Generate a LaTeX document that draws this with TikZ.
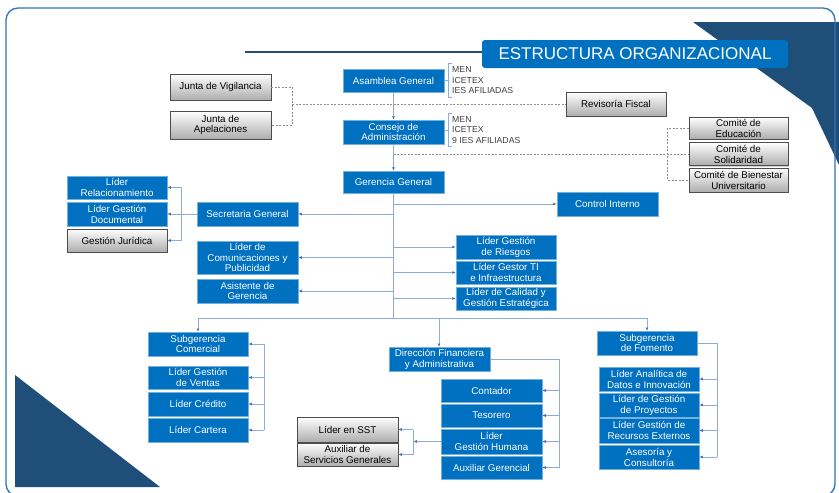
\documentclass[tikz,border=0pt]{standalone}
\usepackage{fontspec}
\setmainfont{Liberation Sans}
\usetikzlibrary{arrows.meta,shadows}
\definecolor{bluebox}{HTML}{0070C0}
\definecolor{navy}{HTML}{1F4E79}
\definecolor{linkc}{HTML}{8FAADC}
\definecolor{tipc}{HTML}{4F6FBF}
\definecolor{framec}{HTML}{2E75B6}

\begin{document}
\begin{tikzpicture}[x=1pt,y=-1pt,
  caja/.style={align=center, inner sep=1pt, minimum width=101pt, minimum height=23.5pt,
    font=\fontsize{9.8}{10.9}\selectfont},
  cargo/.style={caja, fill=bluebox, draw=bluebox!55!white, line width=0.5pt, text=white},
  externo/.style={caja, draw=black!70, line width=0.6pt, text=black, top color=white,
    bottom color=black!32, drop shadow={shadow xshift=1pt, shadow yshift=-1.2pt, opacity=0.35}},
  link/.style={draw=linkc, line width=0.8pt, -{Latex[length=3.5pt,width=3pt,color=tipc]}},
  line/.style={draw=linkc, line width=0.8pt},
  dashln/.style={draw=black!45, line width=0.6pt, dash pattern=on 2pt off 1.5pt},
  brk/.style={draw=linkc, line width=0.7pt},
  miembros/.style={font=\fontsize{8.7}{10.5}\selectfont, text=black!75, align=left,
    anchor=west, inner sep=0pt}]
  \useasboundingbox (0,0) rectangle (839,493);
  \clip (0,0) rectangle (839,493);
  % Background
  \fill[navy] (693,22) -- (839,22) -- (839,165) -- (812,108) -- cycle;
  \fill[navy] (15,375) -- (15,487) -- (160,487) -- cycle;
  \draw[framec, line width=1.3pt, rounded corners=12pt] (6,8) rectangle (835,496);
  % Title
  \node[fill=bluebox, rounded corners=3pt, text=white, font=\fontsize{17}{17}\selectfont,
        minimum width=306pt, minimum height=28pt, inner sep=0pt] (titulo) at (635,54)
        {ESTRUCTURA ORGANIZACIONAL};
  \coordinate (lineaIni) at (245,52);
  \draw[navy, line width=1.6pt] (lineaIni) -- (lineaIni -| titulo.west);

  % Top of the structure
  \node[cargo] (asamblea) at (393.5,80.5) {Asamblea General};
  \node[cargo, minimum height=24pt] (consejo) at (393.5,132) {Consejo de\\Administración};
  \node[cargo, minimum height=22pt] (gerencia) at (393.5,182) {Gerencia General};
  \node[miembros] (menA) at (452,80.5) {MEN\\ICETEX\\IES AFILIADAS};
  \node[miembros] (menC) at (452,130) {MEN\\ICETEX\\9 IES AFILIADAS};
  \foreach \m in {menA, menC} {
    \draw[brk] ([xshift=0pt,yshift=3pt]\m.north west) -- ([xshift=-4pt,yshift=3pt]\m.north west)
      -- ([xshift=-4pt,yshift=-3pt]\m.south west) -- ([xshift=0pt,yshift=-3pt]\m.south west);
    \draw[brk] ([xshift=-4pt]\m.west) -- ++(-3,0);
  }

  % Control bodies (gray)
  \node[externo, minimum height=26pt] (vigilancia) at (220.5,87) {Junta de Vigilancia};
  \node[externo, minimum height=28pt] (apelaciones) at (220.5,125) {Junta de\\Apelaciones};
  \node[externo, minimum width=100pt, minimum height=24pt] (revisoria) at (616,104) {Revisoría Fiscal};
  \node[externo, minimum width=99pt, minimum height=22pt] (educacion) at (738.5,128) {Comité de\\Educación};
  \node[externo, minimum width=99pt, minimum height=23pt] (solidaridad) at (738.5,154) {Comité de\\Solidaridad};
  \node[externo, minimum width=99pt, minimum height=24pt] (bienestar) at (738.5,180) {Comité de Bienestar\\Universitario};
  \draw[dashln] (vigilancia.east) -- ++(21,0) |- (apelaciones.east);
  \draw[dashln] ([xshift=21pt]vigilancia.east |- revisoria.west) -- (revisoria.west);
  \draw[dashln] (consejo.south |- solidaridad.west) -- (solidaridad.west);
  \draw[dashln] (educacion.west) -- ++(-21,0) |- (bienestar.west);

  % Staff of the general management
  \node[cargo] (secretaria) at (247.5,214) {Secretaria General};
  \node[cargo, minimum width=100pt, minimum height=23pt] (relacion) at (117,187.5) {Líder\\Relacionamiento};
  \node[cargo, minimum width=100pt] (documental) at (117,214) {Líder Gestión\\Documental};
  \node[externo, minimum width=100pt, minimum height=23pt] (juridica) at (117,240.5) {Gestión Jurídica};
  \node[cargo, minimum height=33pt] (comunica) at (247.5,257.5) {Líder de\\Comunicaciones y\\Publicidad};
  \node[cargo] (asistente) at (247.5,291) {Asistente de\\Gerencia};
  \node[cargo] (control) at (607.5,204) {Control Interno};
  \node[cargo, minimum width=100pt] (riesgos) at (506,247) {Líder Gestión\\de Riesgos};
  \node[cargo, minimum width=100pt, minimum height=23pt] (gestorti) at (506,272.5) {Líder Gestor TI\\e Infraestructura};
  \node[cargo, minimum width=100pt, minimum height=23pt] (calidad) at (506,298.5) {Líder de Calidad y\\Gestión Estratégica};

  % Subgerencia Comercial
  \node[cargo, minimum width=100pt] (scomercial) at (198,344) {Subgerencia\\Comercial};
  \node[cargo, minimum width=100pt, minimum height=23pt] (ventas) at (198,377.5) {Líder Gestión\\de Ventas};
  \node[cargo, minimum width=100pt] (credito) at (198,404) {Líder Crédito};
  \node[cargo, minimum width=100pt] (cartera) at (198,430) {Líder Cartera};

  % Direccion Financiera
  \node[cargo] (direccion) at (439.5,359) {Dirección Financiera\\y Administrativa};
  \node[cargo, minimum height=23pt] (contador) at (491.5,390.5) {Contador};
  \node[cargo, minimum height=23pt] (tesorero) at (491.5,415.5) {Tesorero};
  \node[cargo, minimum height=25pt] (humana) at (491.5,441.5) {Líder\\Gestión Humana};
  \node[cargo, minimum height=23pt] (auxger) at (491.5,467.5) {Auxiliar Gerencial};
  \node[externo, minimum height=25pt] (sst) at (347.5,429.5) {Líder en SST};
  \node[externo, minimum height=23pt] (auxserv) at (347.5,454.5) {Auxiliar de\\Servicios Generales};

  % Subgerencia de Fomento
  \node[cargo, minimum width=100pt] (sfomento) at (647,343) {Subgerencia\\de Fomento};
  \node[cargo, minimum width=100pt] (analitica) at (649,379) {Líder Analítica de\\Datos e Innovación};
  \node[cargo, minimum width=100pt] (proyectos) at (649,405) {Líder de Gestión\\de Proyectos};
  \node[cargo, minimum width=100pt, minimum height=25pt] (recursos) at (649,430.5) {Líder Gestión de\\Recursos Externos};
  \node[cargo, minimum width=100pt] (asesoria) at (649,457) {Asesoría y\\Consultoría};

  % Main trunk
  \coordinate (bus) at (394,318);
  \draw[link] (asamblea.south) -- (consejo.north);
  \draw[link] (consejo.south) -- (gerencia.north);
  \draw[line] (gerencia.south) -- (gerencia.south |- bus);
  \draw[line] (scomercial.north |- bus) -- (sfomento.north |- bus);
  \foreach \n in {scomercial, sfomento}
    \draw[link] (\n.north |- bus) -- (\n.north);
  \draw[link] ([xshift=-0.5pt]direccion.north |- bus) -- ([xshift=-0.5pt]direccion.north);
  \foreach \n in {secretaria, comunica, asistente}
    \draw[link] (gerencia.south |- \n.east) -- (\n.east);
  \foreach \n in {control, riesgos, gestorti, calidad}
    \draw[link] (gerencia.south |- \n.west) -- (\n.west);

  % Branches
  \draw[link] (secretaria.west) -- (documental.east);
  \draw[link] (secretaria.west) -- ++(-15,0) |- (relacion.east);
  \draw[link] (secretaria.west) -- ++(-15,0) |- (juridica.east);
  \draw[line] ([xshift=16pt]scomercial.east) -- ([xshift=16pt]cartera.east);
  \foreach \n in {scomercial, ventas, credito, cartera}
    \draw[link] ([xshift=16pt]\n.east) -- (\n.east);
  \draw[line] (direccion.east) -| ([xshift=17pt]auxger.east);
  \foreach \n in {contador, tesorero, humana, auxger}
    \draw[link] ([xshift=17pt]\n.east) -- (\n.east);
  \draw[link] (humana.west) -- ([xshift=15pt]sst.east |- humana.west);
  \draw[line] ([xshift=15pt]sst.east) -- ([xshift=15pt]auxserv.east);
  \foreach \n in {sst, auxserv}
    \draw[link] ([xshift=15pt]\n.east) -- (\n.east);
  \draw[line] (sfomento.east) -| ([xshift=18pt]asesoria.east);
  \foreach \n in {analitica, proyectos, recursos, asesoria}
    \draw[link] ([xshift=18pt]\n.east) -- (\n.east);
\end{tikzpicture}
\end{document}
